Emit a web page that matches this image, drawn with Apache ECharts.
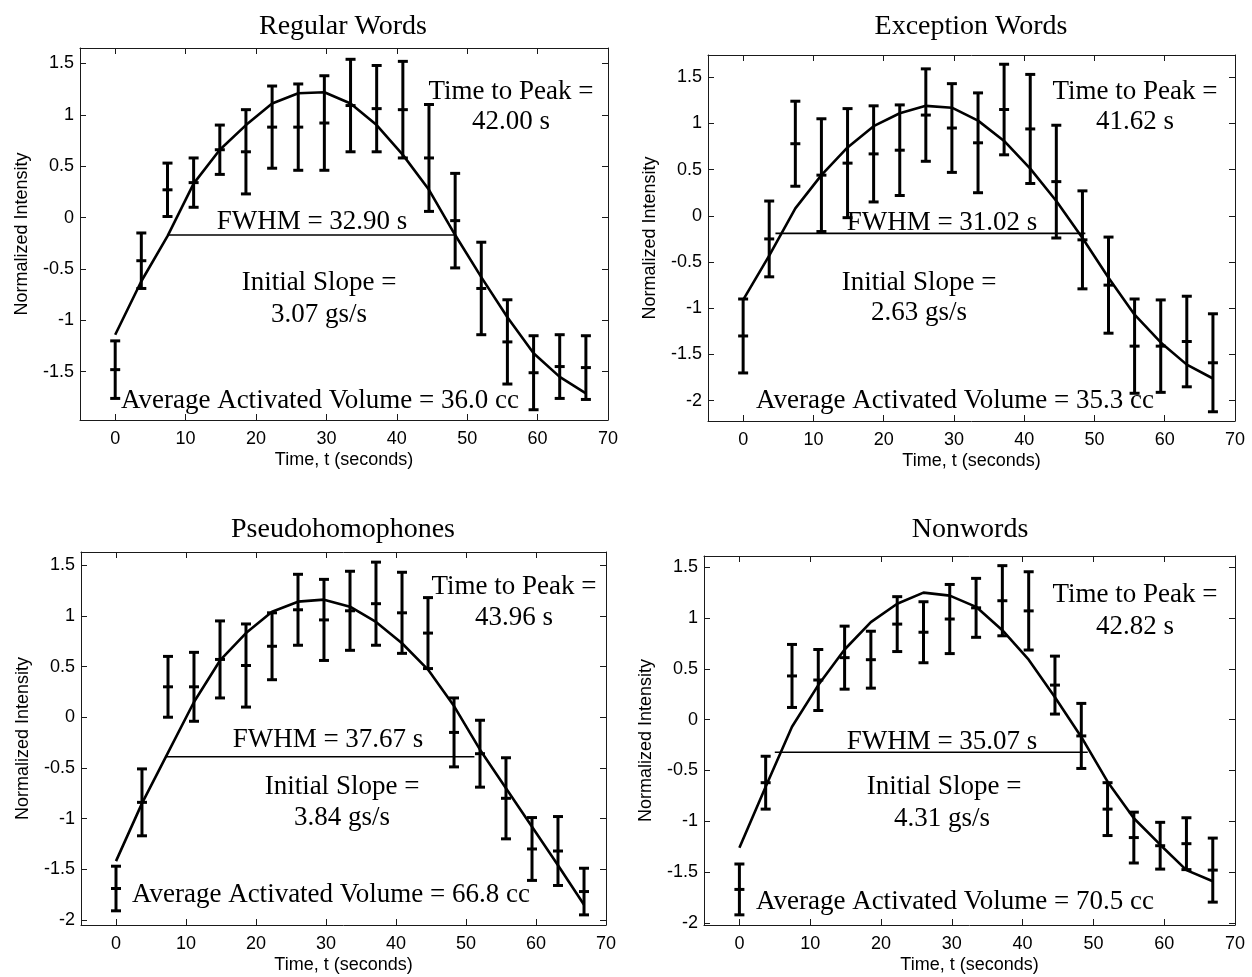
<!DOCTYPE html>
<html>
<head>
<meta charset="utf-8">
<script src="https://cdn.jsdelivr.net/npm/echarts@6/dist/echarts.min.js"></script>
<style>
  html, body { margin: 0; padding: 0; background: #ffffff; }
  #chart { width: 1252px; height: 977px; }
</style>
</head>
<body>
<div id="chart"></div>
<script>
// Sample times (s) shared by all four conditions
const timePoints = [0, 3.71, 7.43, 11.14, 14.86, 18.57, 22.29, 26.0, 29.71, 33.43,
                    37.14, 40.86, 44.57, 48.29, 52.0, 55.71, 59.43, 63.14, 66.86];
const xTicks = [0, 10, 20, 30, 40, 50, 60, 70];
const panelTitles = ['Regular Words', 'Exception Words', 'Pseudohomophones', 'Nonwords'];

// Regular words
const regularMean = [-1.48, -0.42, 0.27, 0.34, 0.66, 0.64, 0.88, 0.88, 0.92, 1.09,
                     1.06, 1.05, 0.58, -0.03, -0.69, -1.21, -1.51, -1.45, -1.46];
const regularErr  = [0.28, 0.27, 0.26, 0.24, 0.24, 0.41, 0.40, 0.42, 0.46, 0.45,
                     0.42, 0.47, 0.52, 0.46, 0.45, 0.41, 0.36, 0.31, 0.31];
const regularFit  = [-1.14, -0.62, -0.18, 0.33, 0.66, 0.90, 1.11, 1.21, 1.22, 1.11,
                     0.90, 0.61, 0.27, -0.17, -0.58, -0.97, -1.32, -1.55, -1.71];

// Exception words
const exceptionMean = [-1.30, -0.25, 0.78, 0.44, 0.57, 0.67, 0.71, 1.09, 0.95, 0.79,
                       1.15, 0.94, 0.37, -0.26, -0.75, -1.41, -1.41, -1.36, -1.59];
const exceptionErr  = [0.40, 0.41, 0.46, 0.61, 0.59, 0.52, 0.49, 0.50, 0.48, 0.54,
                       0.49, 0.59, 0.61, 0.53, 0.52, 0.51, 0.50, 0.49, 0.53];
const exceptionFit  = [-0.91, -0.43, 0.08, 0.44, 0.74, 0.97, 1.11, 1.19, 1.17, 1.03,
                       0.81, 0.51, 0.16, -0.24, -0.67, -1.07, -1.37, -1.61, -1.76];

// Pseudohomophones
const pseudoMean = [-1.69, -0.84, 0.30, 0.30, 0.57, 0.51, 0.70, 1.06, 0.96, 1.05,
                    1.12, 1.03, 0.83, -0.15, -0.36, -0.80, -1.30, -1.32, -1.72];
const pseudoErr  = [0.22, 0.33, 0.30, 0.34, 0.38, 0.41, 0.33, 0.35, 0.40, 0.39,
                    0.41, 0.40, 0.35, 0.34, 0.33, 0.40, 0.31, 0.34, 0.23];
const pseudoFit  = [-1.42, -0.85, -0.35, 0.15, 0.56, 0.83, 1.04, 1.14, 1.16, 1.09,
                    0.94, 0.73, 0.47, 0.11, -0.32, -0.70, -1.08, -1.46, -1.85];

// Nonwords
const nonwordMean = [-1.67, -0.62, 0.43, 0.39, 0.61, 0.59, 0.94, 0.86, 0.99, 1.10,
                     1.17, 1.07, 0.34, -0.16, -0.88, -1.16, -1.24, -1.22, -1.48];
const nonwordErr  = [0.25, 0.26, 0.31, 0.30, 0.31, 0.28, 0.27, 0.30, 0.34, 0.29,
                     0.345, 0.385, 0.285, 0.32, 0.26, 0.25, 0.23, 0.255, 0.315];
const nonwordFit  = [-1.26, -0.66, -0.07, 0.34, 0.69, 0.96, 1.14, 1.25, 1.22, 1.11,
                     0.88, 0.59, 0.22, -0.17, -0.61, -0.97, -1.23, -1.48, -1.59];

// Half-maximum segment of each fitted response: start time, end time, level
const fwhmStart = [7.6, 4.6, 7.1, 5.0];
const fwhmEnd   = [48.3, 48.7, 51.2, 49.2];
const fwhmLevel = [-0.17, -0.19, -0.39, -0.32];

// Reported response parameters
const peakTimes = ['42.00', '41.62', '43.96', '42.82'];
const fwhmValues = ['32.90', '31.02', '37.67', '35.07'];
const initialSlopes = ['3.07', '2.63', '3.84', '4.31'];
const activatedVolumes = ['36.0', '35.3', '66.8', '70.5'];

// Y-axis limits and tick labels per panel
const yMin = [-1.97, -2.22, -2.05, -2.02];
const yMax = [1.65, 1.74, 1.63, 1.61];
const yTicksTop = [-1.5, -1, -0.5, 0, 0.5, 1, 1.5];
const yTicksFull = [-2, -1.5, -1, -0.5, 0, 0.5, 1, 1.5];

const means = [regularMean, exceptionMean, pseudoMean, nonwordMean];
const errs = [regularErr, exceptionErr, pseudoErr, nonwordErr];
const fits = [regularFit, exceptionFit, pseudoFit, nonwordFit];
const yTickSets = [yTicksTop, yTicksFull, yTicksFull, yTicksFull];

// Layout of the four axes boxes (pixels)
const boxes = [
  { left: 80,  top: 48,  width: 528, height: 372 },
  { left: 708, top: 55,  width: 527, height: 366 },
  { left: 81,  top: 552, width: 525, height: 373 },
  { left: 704, top: 556, width: 531, height: 369 }
];
const titlePos = [[343, 13], [971, 13], [343, 516], [970, 516]];
// centres of the annotation lines: peak (2 lines), fwhm, slope (2 lines), volume
const notePos = [
  [[511, 92], [511, 122], [312, 222], [319, 283], [319, 315], [320, 401]],
  [[1135, 92], [1135, 122], [942, 223], [919, 283], [919, 313], [955, 401]],
  [[514, 587], [514, 618], [328, 740], [342, 787], [342, 818], [331, 895]],
  [[1135, 595], [1135, 627], [942, 742], [944, 787], [942, 819], [955, 902]]
];

const SANS = "'Liberation Sans', Arial, sans-serif";
const SERIF = "'Liberation Serif', 'Times New Roman', serif";
const AXIS_COLOR = '#1a1a1a';

function fmtTick(v) { return String(v); }

// Error bar: vertical whisker with caps at both ends and a tick at the mean
function errorBarItem(params, api) {
  const t = api.value(0), m = api.value(1), e = api.value(2);
  const hi = api.coord([t, m + e]);
  const lo = api.coord([t, m - e]);
  const mid = api.coord([t, m]);
  const w = 5;
  const style = { stroke: '#000', lineWidth: 3, fill: null };
  const seg = (x1, y1, x2, y2) => ({ type: 'line', shape: { x1, y1, x2, y2 }, style });
  return {
    type: 'group',
    children: [
      seg(hi[0], hi[1], lo[0], lo[1]),
      seg(hi[0] - w, hi[1], hi[0] + w, hi[1]),
      seg(lo[0] - w, lo[1], lo[0] + w, lo[1]),
      seg(mid[0] - w, mid[1], mid[0] + w, mid[1])
    ]
  };
}

const grid = [], xAxis = [], yAxis = [], series = [], title = [], graphic = [];

for (let i = 0; i < 4; i++) {
  grid.push(Object.assign({ containLabel: false, show: false }, boxes[i]));

  const tickStyle = { color: AXIS_COLOR, width: 1 };
  const lineStyle = { color: AXIS_COLOR, width: 1 };

  xAxis.push({
    gridIndex: i, type: 'value', min: -5, max: 70, position: 'bottom',
    axisLine: { show: true, onZero: false, lineStyle },
    axisTick: { show: true, inside: true, length: 6, customValues: xTicks, lineStyle: tickStyle },
    axisLabel: { show: true, customValues: xTicks, formatter: fmtTick, color: '#000',
                 fontFamily: SANS, fontSize: 18, margin: 10 },
    splitLine: { show: false },
    name: 'Time, t (seconds)', nameLocation: 'middle', nameGap: 31,
    nameTextStyle: { color: '#000', fontFamily: SANS, fontSize: 18 }
  });
  xAxis.push({
    gridIndex: i, type: 'value', min: -5, max: 70, position: 'top',
    axisLine: { show: true, onZero: false, lineStyle },
    axisTick: { show: true, inside: true, length: 6, customValues: xTicks, lineStyle: tickStyle },
    axisLabel: { show: false },
    splitLine: { show: false }
  });
  yAxis.push({
    gridIndex: i, type: 'value', min: yMin[i], max: yMax[i], position: 'left',
    axisLine: { show: true, onZero: false, lineStyle },
    axisTick: { show: true, inside: true, length: 6, customValues: yTickSets[i], lineStyle: tickStyle },
    axisLabel: { show: true, customValues: yTickSets[i], formatter: fmtTick, color: '#000',
                 fontFamily: SANS, fontSize: 18, margin: 6 },
    splitLine: { show: false },
    name: 'Normalized Intensity', nameLocation: 'middle', nameGap: 49, nameRotate: 90,
    nameTextStyle: { color: '#000', fontFamily: SANS, fontSize: 18 }
  });
  yAxis.push({
    gridIndex: i, type: 'value', min: yMin[i], max: yMax[i], position: 'right',
    axisLine: { show: true, onZero: false, lineStyle },
    axisTick: { show: true, inside: true, length: 6, customValues: yTickSets[i], lineStyle: tickStyle },
    axisLabel: { show: false },
    splitLine: { show: false }
  });

  const xi = 2 * i, yi = 2 * i;

  series.push({
    type: 'line', xAxisIndex: xi, yAxisIndex: yi,
    data: timePoints.map((t, k) => [t, fits[i][k]]),
    symbol: 'none', smooth: false, silent: true,
    lineStyle: { color: '#000', width: 2.6 }, z: 3
  });
  series.push({
    type: 'line', xAxisIndex: xi, yAxisIndex: yi,
    data: [[fwhmStart[i], fwhmLevel[i]], [fwhmEnd[i], fwhmLevel[i]]],
    symbol: 'none', silent: true,
    lineStyle: { color: '#000', width: 1.6 }, z: 2
  });
  series.push({
    type: 'custom', xAxisIndex: xi, yAxisIndex: yi,
    data: timePoints.map((t, k) => [t, means[i][k], errs[i][k]]),
    encode: { x: 0, y: 1 },
    renderItem: errorBarItem, silent: true, clip: false, z: 4
  });

  title.push({
    text: panelTitles[i], left: titlePos[i][0], top: titlePos[i][1],
    textAlign: 'center', padding: 0,
    textStyle: { fontFamily: SERIF, fontSize: 28, fontWeight: 'normal', color: '#000' }
  });

  const lines = [
    'Time to Peak =',
    peakTimes[i] + ' s',
    'FWHM = ' + fwhmValues[i] + ' s',
    'Initial Slope =',
    initialSlopes[i] + ' gs/s',
    'Average Activated Volume = ' + activatedVolumes[i] + ' cc'
  ];
  lines.forEach((txt, k) => {
    graphic.push({
      type: 'text', x: notePos[i][k][0], y: notePos[i][k][1], z: 10, silent: true,
      style: { text: txt, fill: '#000', fontFamily: SERIF, fontSize: 27,
               align: 'center', verticalAlign: 'middle' }
    });
  });
}

const chart = echarts.init(document.getElementById('chart'), null, { renderer: 'canvas' });
chart.setOption({
  backgroundColor: '#ffffff',
  animation: false,
  title, grid, xAxis, yAxis, series, graphic
});
</script>
</body>
</html>
